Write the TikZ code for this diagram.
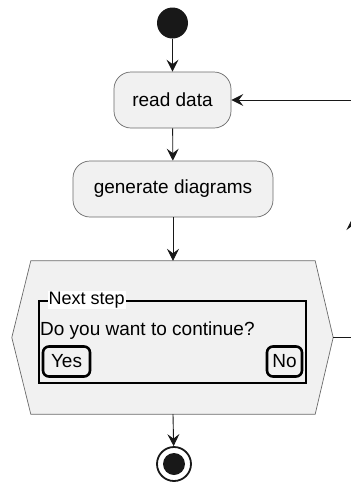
\documentclass[tikz,border=0pt]{standalone}
\usepackage{fontspec}
\setmainfont{Liberation Sans}
\usepackage{tikz}
\usetikzlibrary{arrows.meta,positioning,calc}
\definecolor{umlfill}{HTML}{F1F1F1}
\definecolor{umlborder}{HTML}{6A6A6A}
\definecolor{umlline}{HTML}{181818}
\tikzset{
  act/start/.style={circle, fill=umlline, inner sep=0pt, minimum size=31pt},
  act/stop/.style={circle, draw=umlline, line width=1.8pt, fill=white, inner sep=0pt, minimum size=34pt,
    path picture={\fill[umlline] (path picture bounding box.center) circle (11pt);}},
  act/action/.style={draw=umlborder, line width=0.7pt, fill=umlfill, rounded corners=17pt, minimum height=56pt, align=center,
    font=\fontsize{19}{23}\selectfont},
  act/choicearea/.style={inner sep=0pt, minimum width=284pt, minimum height=153pt},
  act/hex/.style={draw=umlborder, line width=0.7pt, fill=umlfill},
  act/line/.style={draw=umlline, line width=0.9pt},
  act/flow/.style={act/line, -{Stealth[length=12pt,width=12pt,inset=4.5pt]}},
  form/frame/.style={draw=black, line width=1.2pt, fill=umlfill, inner sep=0pt, minimum width=267pt, minimum height=82pt},
  form/title/.style={fill=white, inner sep=1pt, font=\fontsize{18}{22}\selectfont},
  form/text/.style={inner sep=1pt, font=\fontsize{19}{23}\selectfont},
  form/button/.style={draw=black, line width=2.6pt, rounded corners=6pt, inner sep=0pt, minimum height=30pt,
    font=\fontsize{19}{23}\selectfont}
}
\begin{document}
\begin{tikzpicture}[x=1pt, y=-1pt]
  \useasboundingbox (0,0) rectangle (351,483);
  \node[act/start] (start) at (172.5,23) {};
  \node[act/action, minimum width=117pt] (read) at (172.5,100) {read data};
  \node[act/action, minimum width=200pt] (gen) at (173,189) {generate diagrams};

  % choice with embedded form
  \node[act/choicearea] (choice) at (173,337.5) {};
  \draw[act/hex] (choice.north west) -- (choice.north east) -- ([xshift=18pt]choice.east)
    -- (choice.south east) -- (choice.south west) -- ([xshift=-19pt]choice.west) -- cycle;
  \coordinate (choiceR) at ([xshift=18pt]choice.east);
  \node[form/frame] (frame) at (172.5,342) {};
  \node[form/title, anchor=west] (title) at ([xshift=9pt]frame.north west) {Next step};
  \node[form/text, anchor=west] (question) at (39,331) {Do you want to continue?};
  \node[form/button, minimum width=47pt] (yes) at (66.5,361.5) {Yes};
  \node[form/button, minimum width=35pt] (no) at (284.5,361.5) {No};

  \node[act/stop] (stop) at (174,464) {};

  \draw[act/flow] (start) -- (read);
  \draw[act/flow] (read) -- (gen);
  \draw[act/flow] (gen) -- (choice.north);
  \draw[act/flow] (choice.south) -- (stop);

  % loop back to read data
  \coordinate (loopB) at (352.5,337.5);
  \coordinate (loopM) at (352.5,218);
  \coordinate (loopT) at (352.5,100);
  \draw[act/flow] (choiceR) -- (loopB) -- (loopM);
  \draw[act/flow] (loopM) -- (loopT) -- (read.east);
\end{tikzpicture}
\end{document}
